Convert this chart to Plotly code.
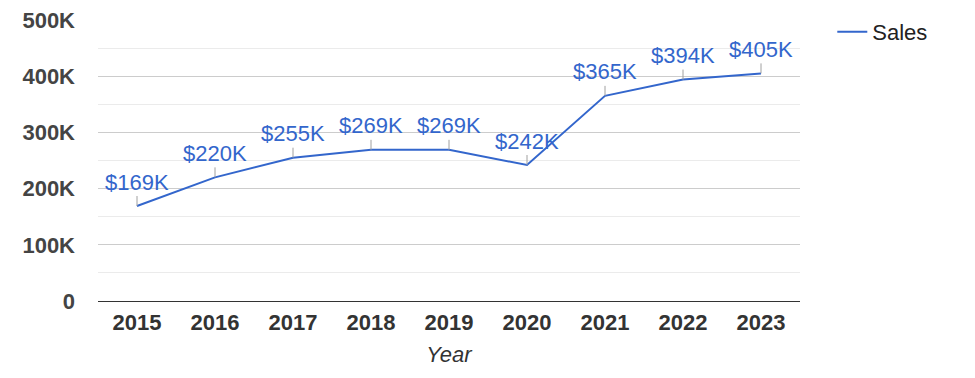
import plotly.graph_objects as go

years = ["2015", "2016", "2017", "2018", "2019", "2020", "2021", "2022", "2023"]
sales = [169000, 220000, 255000, 269000, 269000, 242000, 365000, 394000, 405000]
value_labels = ["$169K", "$220K", "$255K", "$269K", "$269K", "$242K", "$365K", "$394K", "$405K"]
y_tickvals = [0, 100000, 200000, 300000, 400000, 500000]
y_ticktext = ["0", "100K", "200K", "300K", "400K", "500K"]

FONT = "Liberation Sans, Arial, sans-serif"
BLUE = "#3366cc"
FS = 22

fig = go.Figure()
fig.add_trace(go.Scatter(x=years, y=sales, mode="lines", name="Sales",
                         line=dict(color=BLUE, width=2), showlegend=True))

# category axis: annotations positioned by category index
for i, (y, t) in enumerate(zip(sales, value_labels)):
    fig.add_annotation(x=i, y=y, xref="x", yref="y", text=t, showarrow=True,
                       arrowhead=0, arrowwidth=1, arrowcolor="#a0a0a0",
                       ax=0, ay=-24, standoff=0,
                       font=dict(family=FONT, size=FS, color=BLUE))

fig.update_layout(
    width=975, height=378,
    margin=dict(l=98, r=175, t=20, b=77, autoexpand=False),
    paper_bgcolor="white", plot_bgcolor="white",
    font=dict(family=FONT, size=FS, color="#444444"),
    showlegend=True,
    legend=dict(x=1.046, y=1.032, xanchor="left", yanchor="top",
                font=dict(family=FONT, size=FS, color="#222222"),
                bgcolor="rgba(0,0,0,0)"),
    xaxis=dict(type="category", range=[-0.5, 8.5], showgrid=False,
               showline=True, linecolor="#333333", linewidth=1,
               tickfont=dict(family=FONT, size=FS, color="#333333", weight="bold"),
               title=dict(text="<i>Year</i>", font=dict(family=FONT, size=FS, color="#333333"), standoff=12),
               ticks="", ticklabelstandoff=2),
    yaxis=dict(range=[0, 500000], tickvals=y_tickvals, ticktext=y_ticktext,
               showgrid=True, gridcolor="#cccccc", gridwidth=1,
               minor=dict(dtick=50000, tick0=0, showgrid=True, gridcolor="#ebebeb", gridwidth=1),
               zeroline=False, showline=False,
               tickfont=dict(family=FONT, size=FS, color="#444444", weight="bold"),
               ticklabelstandoff=22, ticks=""),
)

fig.write_html("out.html", config={"displayModeBar": False},
               post_script="document.body.style.margin='0';")
